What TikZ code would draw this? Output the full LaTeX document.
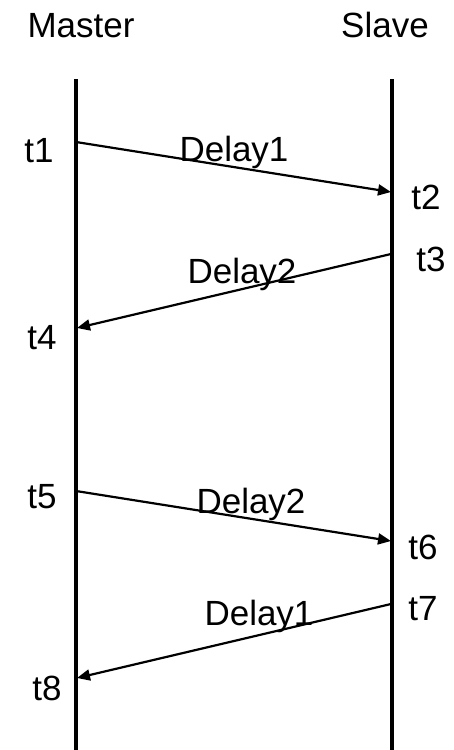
\documentclass[tikz,border=0pt]{standalone}
\usepackage{fontspec}
\setmainfont{Liberation Sans}
\usetikzlibrary{arrows.meta}
\begin{document}
\begin{tikzpicture}[x=1pt,y=-1pt,
  lbl/.style={inner sep=0pt,font=\fontsize{35}{38}\selectfont},
  lifeline/.style={line width=3.2pt},
  msg/.style={line width=2.2pt,-{Triangle[length=13pt,width=11pt]}}]
  \useasboundingbox (0,0) rectangle (454,750);
  % headings
  \node[lbl,anchor=base] (master) at (81,37) {Master};
  \node[lbl,anchor=base] (slave) at (385,37) {Slave};
  % lifelines
  \coordinate (mtop) at (76,79);
  \coordinate (mbot) at (76,750);
  \coordinate (stop) at (392,79);
  \coordinate (sbot) at (392,750);
  \draw[lifeline] (mtop) -- (mbot);
  \draw[lifeline] (stop) -- (sbot);
  % message end points
  \coordinate (p1) at (76,142);
  \coordinate (p2) at (391,192);
  \coordinate (p3) at (391,254);
  \coordinate (p4) at (77,328);
  \coordinate (p5) at (76,491);
  \coordinate (p6) at (391,541);
  \coordinate (p7) at (391,604);
  \coordinate (p8) at (77,678);
  % messages
  \draw[msg] (p1) -- (p2);
  \draw[msg] (p3) -- (p4);
  \draw[msg] (p5) -- (p6);
  \draw[msg] (p7) -- (p8);
  % delay labels
  \node[lbl,anchor=base] (d1) at (234,161) {Delay1};
  \node[lbl,anchor=base] (d2) at (242,283) {Delay2};
  \node[lbl,anchor=base] (d3) at (251,513) {Delay2};
  \node[lbl,anchor=base] (d4) at (259,625) {Delay1};
  % time stamps
  \node[lbl] (t1) at (39,151) {t1};
  \node[lbl] (t2) at (426,197) {t2};
  \node[lbl] (t3) at (431,259) {t3};
  \node[lbl] (t4) at (42,338) {t4};
  \node[lbl] (t5) at (42,497) {t5};
  \node[lbl] (t6) at (423,547) {t6};
  \node[lbl] (t7) at (423,609) {t7};
  \node[lbl] (t8) at (47,688) {t8};
\end{tikzpicture}
\end{document}
